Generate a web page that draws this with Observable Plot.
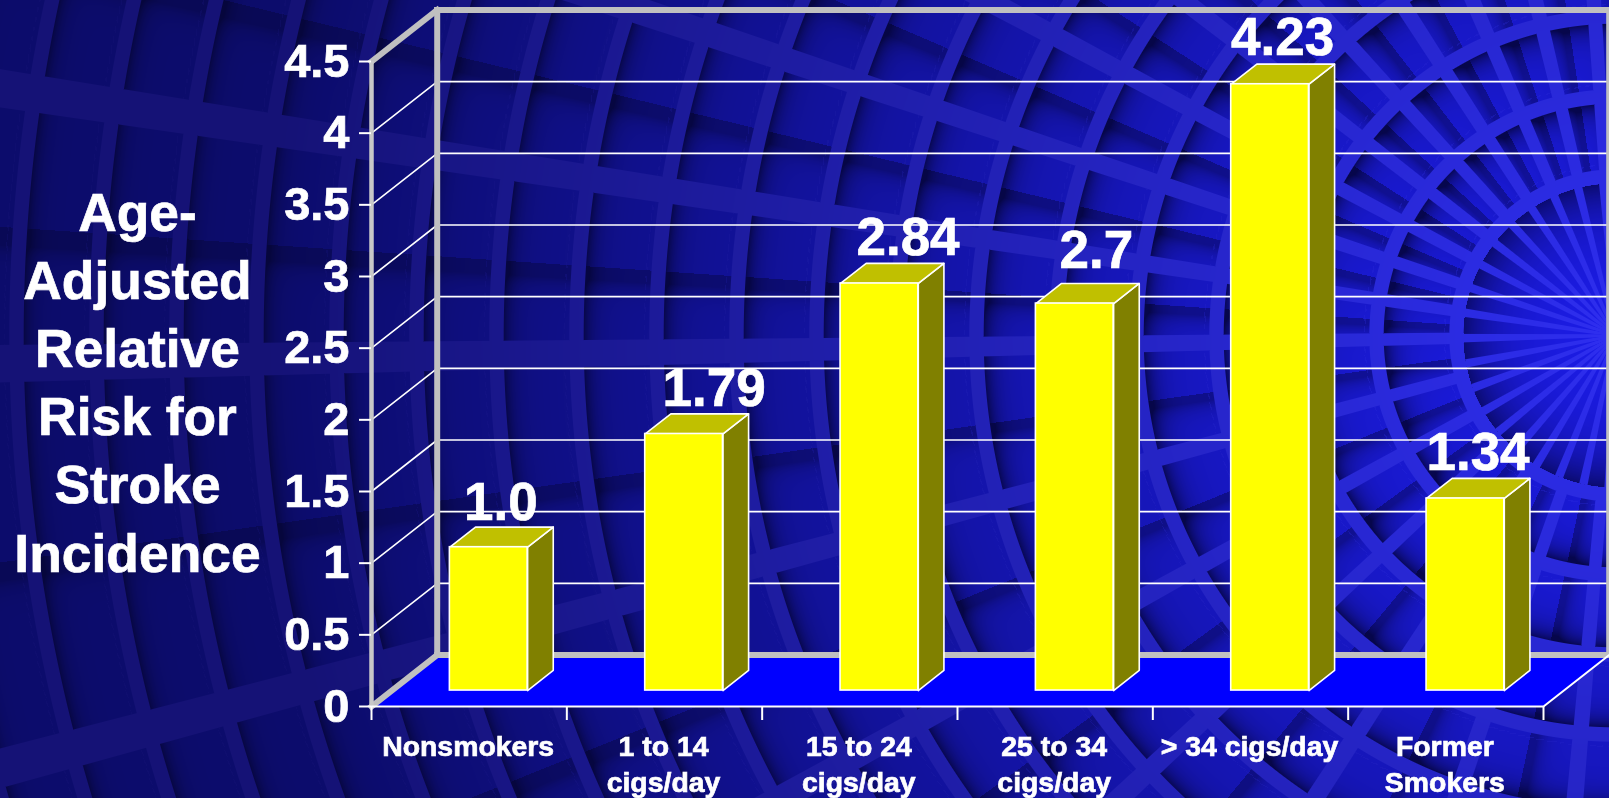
<!DOCTYPE html>
<html>
<head>
<meta charset="utf-8">
<title>Age-Adjusted Relative Risk for Stroke Incidence</title>
<style>
  html, body { margin: 0; padding: 0; width: 1609px; height: 798px; overflow: hidden; background: #10106c; }
  #stage { position: relative; width: 1609px; height: 798px; }
  #vault, #stage svg { position: absolute; left: 0; top: 0; display: block; }
  #stage svg text { stroke: #ffffff; stroke-width: 0.7px; }
</style>
<script src="https://cdn.jsdelivr.net/npm/d3@7"></script>
<script src="https://cdn.jsdelivr.net/npm/@observablehq/plot@0.6"></script>
</head>
<body>
<div id="stage"><canvas id="vault" width="1609" height="798"></canvas></div>
<script>
// Chart data
const categories = ["Nonsmokers", "1 to 14\ncigs/day", "15 to 24\ncigs/day", "25 to 34\ncigs/day", "> 34 cigs/day", "Former\nSmokers"];
const valueLabels = ["1.0", "1.79", "2.84", "2.7", "4.23", "1.34"];
const values = valueLabels.map(Number);
const yTicks = [0, 0.5, 1, 1.5, 2, 2.5, 3, 3.5, 4, 4.5];
const xTicks = [0, 1, 2, 3, 4, 5, 6];
const yTitle = "Age-\nAdjusted\nRelative\nRisk for\nStroke\nIncidence";

// Hand placement of the value labels, in pixels
const labelShift = [-1.5, 16.5, 15, 8, -1, -1];
const labelLift = [27, 28, 28, 36, 29, 28];

// Oblique projection: how far the back of the box sits from the front, in data units
const depthX = 0.3364;
const depthY = 0.3593;
const barFront = 0.31, barBack = 0.70;
const barLeft = 0.297, barRight = 0.695;
const px = (cat, depth) => cat + depth * depthX;
const py = (val, depth) => val + depth * depthY;

// Faces of each bar as closed outlines
const face = (i, corners) => corners.map(([c, v, d]) => ({id: i, x: px(i + c, d), y: py(v, d)}));
const sides = values.flatMap((v, i) => face(i, [
  [barRight, 0, barFront], [barRight, 0, barBack], [barRight, v, barBack], [barRight, v, barFront], [barRight, 0, barFront]
]));
const tops = values.flatMap((v, i) => face(i, [
  [barLeft, v, barFront], [barRight, v, barFront], [barRight, v, barBack], [barLeft, v, barBack], [barLeft, v, barFront]
]));
const fronts = values.map((v, i) => ({
  x1: px(i + barLeft, barFront), x2: px(i + barRight, barFront),
  y1: py(0, barFront), y2: py(v, barFront)
}));

// Box walls
const lastCat = xTicks[xTicks.length - 1];
const topVal = yTicks[yTicks.length - 1];
const floorShape = [[0, 0], [lastCat, 0], [lastCat, 1], [0, 1], [0, 0]].map(([c, d]) => ({x: px(c, d), y: py(0, d)}));
const wallEdges = [
  [[0, 0, 1], [lastCat, 0, 1]],
  [[0, topVal, 1], [lastCat, topVal, 1]],
  [[0, 0, 1], [0, topVal, 1]],
  [[lastCat, 0, 1], [lastCat, topVal, 1]],
  [[0, 0, 0], [0, 0, 1]],
  [[0, topVal, 0], [0, topVal, 1]]
].flatMap((edge, id) => edge.map(([c, v, d]) => ({id, x: px(c, d), y: py(v, d)})));
const gridSegments = yTicks.slice(1, -1).flatMap(t => [
  {id: t, x: px(0, 0), y: py(t, 0)}, {id: t, x: px(0, 1), y: py(t, 1)}, {id: t, x: px(lastCat, 1), y: py(t, 1)}
]);
const floorEdge = [{x: px(0, 0), y: 0}, {x: px(lastCat, 0), y: 0}, {x: px(lastCat, 1), y: py(0, 1)}];

const font = "'Liberation Sans', Arial, sans-serif";

const chart = Plot.plot({
  width: 1609,
  height: 798,
  marginLeft: 371,
  marginRight: 66,
  marginTop: 61,
  marginBottom: 92,
  x: {domain: [0, lastCat], axis: null},
  y: {domain: [0, topVal], axis: null},
  style: {background: "transparent", fontFamily: font, overflow: "visible"},
  marks: [
    Plot.line(gridSegments, {x: "x", y: "y", z: "id", stroke: "#ffffff", strokeWidth: 1.6}),
    Plot.line(floorShape, {x: "x", y: "y", fill: "#0000ff", stroke: "none"}),
    Plot.line(wallEdges, {x: "x", y: "y", z: "id", stroke: "#c0c0c0", strokeWidth: 6, strokeLinecap: "square"}),
    Plot.ruleX([0], {y1: 0, y2: topVal, stroke: "#c8c8c8", strokeWidth: 4.5}),
    Plot.line(floorEdge, {x: "x", y: "y", stroke: "#ffffff", strokeWidth: 2}),
    Plot.axisX(xTicks, {anchor: "bottom", tickSize: 14, color: "#ffffff", strokeWidth: 2, tickFormat: () => ""}),
    Plot.axisY(yTicks, {
      anchor: "left", tickSize: 12, tickPadding: 10, color: "#ffffff", strokeWidth: 2,
      tickFormat: d => String(d), fontSize: 47, fontWeight: "bold"
    }),
    Plot.line(sides, {x: "x", y: "y", z: "id", fill: "#808000", stroke: "#ffffff", strokeWidth: 1.6}),
    Plot.line(tops, {x: "x", y: "y", z: "id", fill: "#c0c000", stroke: "#ffffff", strokeWidth: 1.6}),
    Plot.rect(fronts, {x1: "x1", x2: "x2", y1: "y1", y2: "y2", fill: "#ffff00", stroke: "#ffffff", strokeWidth: 1.6}),
    ...values.map((v, i) => Plot.text([valueLabels[i]], {
      x: () => px(i + 0.5, (barFront + barBack) / 2),
      y: () => py(v, barFront),
      dx: labelShift[i],
      dy: -labelLift[i],
      lineAnchor: "bottom",
      fill: "#ffffff", fontSize: 53, fontWeight: "bold"
    })),
    Plot.text(categories, {
      x: (d, i) => i + 0.5, y: () => 0, dx: -1, dy: 23,
      lineAnchor: "top", lineHeight: 1.29,
      fill: "#ffffff", fontSize: 28.4, fontWeight: "bold"
    }),
    Plot.text([yTitle], {
      x: () => 0, y: () => 0, dx: -234, dy: -135,
      lineAnchor: "bottom", lineHeight: 1.277,
      fill: "#ffffff", fontSize: 53.4, fontWeight: "bold"
    })
  ]
});
document.getElementById("stage").appendChild(chart);

// Coffered vault behind the chart: ribs radiating from a hub on the right edge
(function paintVault() {
  const canvas = document.getElementById("vault");
  const ctx = canvas.getContext("2d");
  const W = canvas.width, H = canvas.height;
  const img = ctx.createImageData(W, H);
  const hubX = 1615, hubY = 335;
  const arcStart = 159, arcStep = 80, arcHalf = 7;
  const rad = Math.PI / 180;
  const mix = (a, b, t) => a + (b - a) * t;
  const edge = (d, hw) => Math.max(0, Math.min(1, hw + 0.7 - d));

  for (let y = 0; y < H; y++) {
    for (let x = 0; x < W; x++) {
      const dx = hubX - x, dy = y - hubY;
      const r = Math.hypot(dx, dy);
      const ang = Math.atan2(dy, Math.max(dx, 0.001)) / rad;
      const t = Math.max(0, Math.min(1, 1 - r / 1350));

      let rib, dark, hair = 0;
      if (r < arcStart - arcHalf) {
        // Fan of wedges around the hub, each narrowing toward the centre
        const step = 9.6;
        const k = Math.round((ang - 1) / step);
        const off = Math.abs(ang - 1 - k * step) * rad * r;
        rib = edge(off, 1 + r * 0.02);
        dark = 0.75 * Math.exp(-(arcStart - arcHalf - r) / 30);
      } else {
        // Concentric arcs at an even spacing
        const kr = Math.round((r - arcStart) / arcStep);
        const dArc = Math.abs(r - arcStart - kr * arcStep);
        // Main spokes: tighter above the hub line than below it
        const base = 1;
        const stepA = ang >= base ? 14 : 9.7;
        const ka = Math.round((ang - base) / stepA);
        const da = (ang - base - ka * stepA) * rad * r;
        const spokeHalf = (8 + 0.018 * r) / 2;
        rib = Math.max(edge(dArc, arcHalf), edge(Math.abs(da), spokeHalf));

        // Recess shading: deep along the outer arc and the upper spoke
        const rel = ((r - arcStart) % arcStep + arcStep) % arcStep;
        const fromOuter = Math.max(0, arcStep - arcHalf - rel) / (arcStep - 2 * arcHalf);
        const stepPx = stepA * rad * r;
        const fromUpper = Math.max(0, ((da + stepPx / 2) % stepPx + stepPx) % stepPx - spokeHalf);
        dark = Math.min(1, Math.exp(-fromOuter * mix(8, 5, t)) * 0.9 + Math.exp(-fromUpper / 9) * 0.45);

        // Dashed hairline just inside the inner arc
        const nearInner = Math.abs(rel - arcHalf - 5);
        if (nearInner < 0.8 && Math.floor(((ang + 180) * rad * r) / 5) % 2 === 0) hair = 0.3;
      }

      const cR = mix(mix(12, 28, t), 6, dark);
      const cG = mix(mix(12, 28, t), 6, dark);
      const cB = mix(mix(108, 232, t), mix(60, 80, t), dark);
      const rR = mix(21, 46, t), rG = mix(18, 46, t), rB = mix(118, 240, t);
      const i = (y * W + x) * 4;
      const m = Math.max(rib, hair);
      img.data[i] = mix(cR, rR, m);
      img.data[i + 1] = mix(cG, rG, m);
      img.data[i + 2] = mix(cB, rB, m);
      img.data[i + 3] = 255;
    }
  }
  ctx.putImageData(img, 0, 0);
})();
</script>
</body>
</html>
